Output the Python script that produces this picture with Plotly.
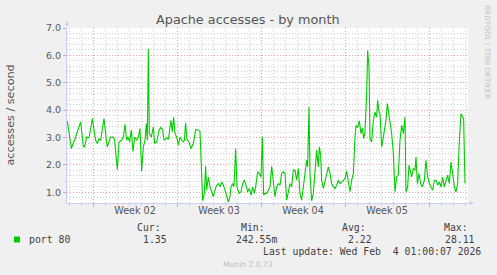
import plotly.graph_objects as go

# time in hours since Jan 1 00:00, value in accesses/second
hours = [20.7, 28.7, 37.3, 47.3, 52.7, 55.3, 59.3, 64, 70.7, 77.3, 80.7, 84, 87.3, 94, 98.7, 100.7,
         104, 107.3, 112.7, 115.3, 120.7, 124, 128.7, 132.7, 136, 139.3, 142, 145.3, 148.7, 152,
         155.3, 159.3, 162.7, 166, 169.3, 172.7, 176, 178.7, 180.7, 182.7, 184.7, 188.7, 192.7,
         195.3, 199.3, 204, 207.3, 211.3, 214,
         216, 219.3, 222.7, 228, 230.7, 233.3, 236, 239.3, 242.7, 246, 249.3, 252.7, 254.7, 257.3,
         260, 264, 268, 272.7, 277.3, 282.7, 286, 289.3, 291.3, 294.7, 297.3, 299.3, 302.7, 306,
         309.3, 312.7, 316, 319.3, 322.7, 326, 329.3, 332.7, 336, 339.3, 342.7, 346, 348, 351.3,
         354, 357.3, 360, 364, 368, 371.3, 374.7, 378, 381.3, 384.7, 388, 391.3, 394.7, 397.3,
         401.3, 404.7, 408, 410.7, 413.3, 416,
         419.3, 422.7, 426, 429.3, 432.7, 436, 439.3, 442.7, 446, 449.3, 452.7, 456, 459.3, 462.7,
         466, 469.3, 472.7, 476, 479.3, 482.7, 486, 489.3, 492.7, 496, 499.3, 501.3, 504, 506,
         509.3, 512.7, 516, 519.3, 522.7, 524.7, 527.3, 529.3, 532.7, 536, 539.3, 542.7, 546,
         549.3, 552.7, 556, 559.3, 562.7, 566, 569.3, 572.7, 576, 579.3, 582.7, 586, 589.3, 592.7,
         596, 598, 601.3, 604.7, 608, 610.7, 613.3,
         616, 619.3, 621.3, 624, 626, 629.3, 632.7, 636, 639.3, 641.3, 644, 646, 649.3, 652.7,
         656, 658, 660.7, 662.7, 666, 669.3, 672.7, 676, 679.3, 682.7, 686, 689.3, 692.7, 696,
         698, 701.3, 704, 706.7, 709.3, 712.7, 716, 718, 720.7, 724, 727.3, 730.7, 734.7, 738,
         741.3, 744.7, 748, 751.3, 754.7, 758, 761.3, 764.7, 768, 771.3, 774.7, 778, 781.3, 784.7,
         788, 791.3, 794.7, 798, 801.3, 804.7, 808, 811.3, 813.3, 816]

accesses = [3.59, 2.60, 3.02, 3.57, 2.68, 2.66, 3.02, 2.99, 3.69, 2.90, 2.78, 2.96, 2.90, 3.69, 2.90, 2.66,
            2.84, 3.02, 3.02, 2.90, 1.83, 2.84, 2.90, 3.02, 3.48, 2.90, 3.02, 2.84, 3.27, 2.48,
            3.02, 2.90, 3.02, 3.33, 1.77, 2.66, 2.90, 3.51, 2.90, 6.24, 3.14, 3.02, 3.39,
            2.78, 2.84, 3.27, 3.36, 3.29, 2.90,
            2.94, 2.99, 2.93, 3.63, 3.21, 3.75, 3.14, 3.02, 2.72, 3.02, 2.90, 2.84, 2.90, 3.53,
            2.90, 2.84, 2.60, 2.78, 3.29, 3.27, 3.23, 1.69, 0.69, 0.96, 1.95, 1.08, 1.56, 1.20,
            1.02, 0.84, 1.08, 1.26, 1.32, 1.20, 1.38, 1.26, 1.08, 0.90, 0.65, 0.84, 1.20, 1.32,
            1.20, 2.60, 1.20, 0.96, 1.02, 1.32, 1.44, 1.26, 1.02, 1.14, 0.90, 1.20, 0.96, 1.20,
            1.75, 1.69, 1.56, 3.02, 0.90, 0.96,
            0.96, 1.08, 1.20, 1.95, 1.44, 0.84, 1.20, 1.32, 1.26, 1.69, 1.75, 1.69, 0.71, 1.08,
            1.32, 1.20, 1.81, 1.81, 1.44, 1.87, 0.96, 0.71, 1.26, 1.81, 2.17, 1.93, 4.12, 1.69,
            0.69, 0.96, 1.69, 2.54, 1.93, 2.66, 2.35, 1.44, 1.14, 1.44, 1.69, 1.93, 1.69,
            1.32, 1.20, 1.14, 1.26, 1.44, 1.32, 1.38, 1.44, 1.50, 1.77, 1.32, 1.02, 1.44, 1.69,
            3.02, 3.45, 3.36, 3.61, 3.14, 3.36, 2.96,
            3.21, 4.60, 6.18, 5.57, 2.96, 2.84, 3.63, 3.93, 3.75, 4.36, 3.93, 3.87, 2.66, 3.02,
            3.39, 3.63, 4.24, 3.99, 3.57, 3.14, 2.42, 1.02, 1.56, 1.63, 2.90, 3.45, 3.14, 3.75,
            1.02, 1.20, 1.99, 1.81, 1.56, 1.87, 1.81, 2.29, 1.32, 1.69, 1.32, 1.20, 1.44, 2.17,
            1.56, 1.32, 1.20, 1.08, 1.44, 1.44, 1.26, 1.38, 1.20, 1.56, 1.20, 1.44, 1.63, 1.32,
            2.11, 1.69, 1.20, 1.02, 1.32, 2.90, 3.87, 3.75, 3.69, 1.32]

week_ticks = [156, 324, 492, 660]
week_labels = ["Week 02", "Week 03", "Week 04", "Week 05"]

series_name = "port 80"
stat_labels = ["Cur:", "Min:", "Avg:", "Max:"]
stat_values = ["1.35", "242.55m", "2.22", "28.11"]
last_update = "Last update: Wed Feb  4 01:00:07 2026"

BG = "#F0F0F0"
GREEN = "#00CC00"
MAJOR = "#E8A0A0"
MINOR = "#D2D2D2"
AXIS = "#C8CEF4"
TXT = "#555555"
MONO = "DejaVu Sans Mono"
SANS = "DejaVu Sans"

L, R, T, B = 67, 29, 28, 72
W, H = 497, 275
PW, PH = W - L - R, H - T - B


def px(xp):
    return (xp - L) / PW


def py(yp):
    return (H - B - yp) / PH


fig = go.Figure()
fig.add_trace(go.Scatter(x=hours, y=accesses, mode="lines",
                         line=dict(color=GREEN, width=1.1), showlegend=False,
                         hoverinfo="skip"))
fig.add_trace(go.Scatter(x=[week_ticks[0]], y=[None], xaxis="x2", mode="lines",
                         showlegend=False, hoverinfo="skip"))

fig.update_layout(
    width=W, height=H,
    margin=dict(l=L, r=R, t=T, b=B),
    paper_bgcolor=BG, plot_bgcolor="white",
    font=dict(family=SANS, color=TXT, size=9.5),
    xaxis=dict(range=[20, 822], showticklabels=False, zeroline=False,
               tick0=72, dtick=168, showgrid=True, gridcolor=MAJOR, griddash="1px,2px",
               gridwidth=1, ticks="outside", ticklen=3, tickcolor=MAJOR,
               minor=dict(tick0=0, dtick=24, showgrid=True, gridcolor=MINOR,
                          griddash="1px,2px", ticks="outside", ticklen=2, tickcolor=MINOR),
               showline=True, linecolor=AXIS, linewidth=1, layer="below traces"),
    xaxis2=dict(range=[20, 822], overlaying="x", side="bottom", tickmode="array",
                tickvals=week_ticks, ticktext=week_labels, showgrid=False, zeroline=False,
                ticks="", tickfont=dict(family=SANS, size=9.6, color=TXT), showline=False),
    yaxis=dict(range=[0.61, 7.001], tick0=0, dtick=1, tickformat=".1f", zeroline=False,
               showgrid=True, gridcolor=MAJOR, griddash="1px,2px", gridwidth=1,
               ticks="outside", ticklen=3, tickcolor=MAJOR,
               tickfont=dict(family=SANS, size=9.5, color=TXT),
               minor=dict(tick0=0, dtick=0.2, showgrid=True, gridcolor=MINOR,
                          griddash="1px,2px"),
               showline=True, linecolor=AXIS, linewidth=1),
)

ann = []
ann.append(dict(text="Apache accesses - by month", x=px(248), y=py(19.3), xref="paper",
                yref="paper", showarrow=False, xanchor="center", yanchor="middle",
                font=dict(family=SANS, size=12.8, color=TXT)))
ann.append(dict(text="accesses / second", x=px(10), y=0.5, xref="paper", yref="paper",
                showarrow=False, textangle=-90, xanchor="center", yanchor="middle",
                font=dict(family=SANS, size=11.2, color=TXT)))
ann.append(dict(text="RRDTOOL / TOBI OETIKER", x=px(488), y=py(52), xref="paper",
                yref="paper", showarrow=False, textangle=90, xanchor="center",
                yanchor="middle", font=dict(family=SANS, size=7.3, color="#C4C4C4")))
ann.append(dict(text=series_name, x=px(26.7), y=py(239.4), xref="paper", yref="paper",
                showarrow=False, xanchor="left", yanchor="middle",
                font=dict(family=MONO, size=9.8, color="#404040")))
lab_right = [163, 266.7, 368.3, 470]
val_right = [169.3, 279.3, 374.3, 476.7]
for lab, val, lr, vr in zip(stat_labels, stat_values, lab_right, val_right):
    ann.append(dict(text=lab, x=px(lr), y=py(227.7), xref="paper", yref="paper",
                    showarrow=False, xanchor="right", yanchor="middle",
                    font=dict(family=MONO, size=9.8, color="#404040")))
    ann.append(dict(text=val, x=px(vr), y=py(239.4), xref="paper", yref="paper",
                    showarrow=False, xanchor="right", yanchor="middle",
                    font=dict(family=MONO, size=9.8, color="#404040")))
ann.append(dict(text=last_update, x=px(482.7), y=py(251.7), xref="paper", yref="paper",
                showarrow=False, xanchor="right", yanchor="middle",
                font=dict(family=MONO, size=9.8, color="#404040")))
ann.append(dict(text="Munin 2.0.73", x=px(248), y=py(264.3), xref="paper", yref="paper",
                showarrow=False, xanchor="center", yanchor="middle",
                font=dict(family=SANS, size=7.6, color="#BEBEBE")))
# axis arrows
ann.append(dict(x=0, y=py(21), ax=0, ay=7, xref="paper", yref="paper",
                axref="pixel", ayref="pixel", showarrow=True, arrowhead=2, arrowsize=0.8,
                arrowwidth=1, arrowcolor=AXIS, text=""))
ann.append(dict(x=px(474), y=0, ax=-7, ay=0, xref="paper", yref="paper",
                axref="pixel", ayref="pixel", showarrow=True, arrowhead=2, arrowsize=0.8,
                arrowwidth=1, arrowcolor=AXIS, text=""))
fig.update_layout(annotations=ann)

fig.add_shape(type="rect", xref="paper", yref="paper", x0=px(14), x1=px(20),
              y0=py(242.5), y1=py(236.5), fillcolor=GREEN, line=dict(width=0))

fig.write_html("out.html")
